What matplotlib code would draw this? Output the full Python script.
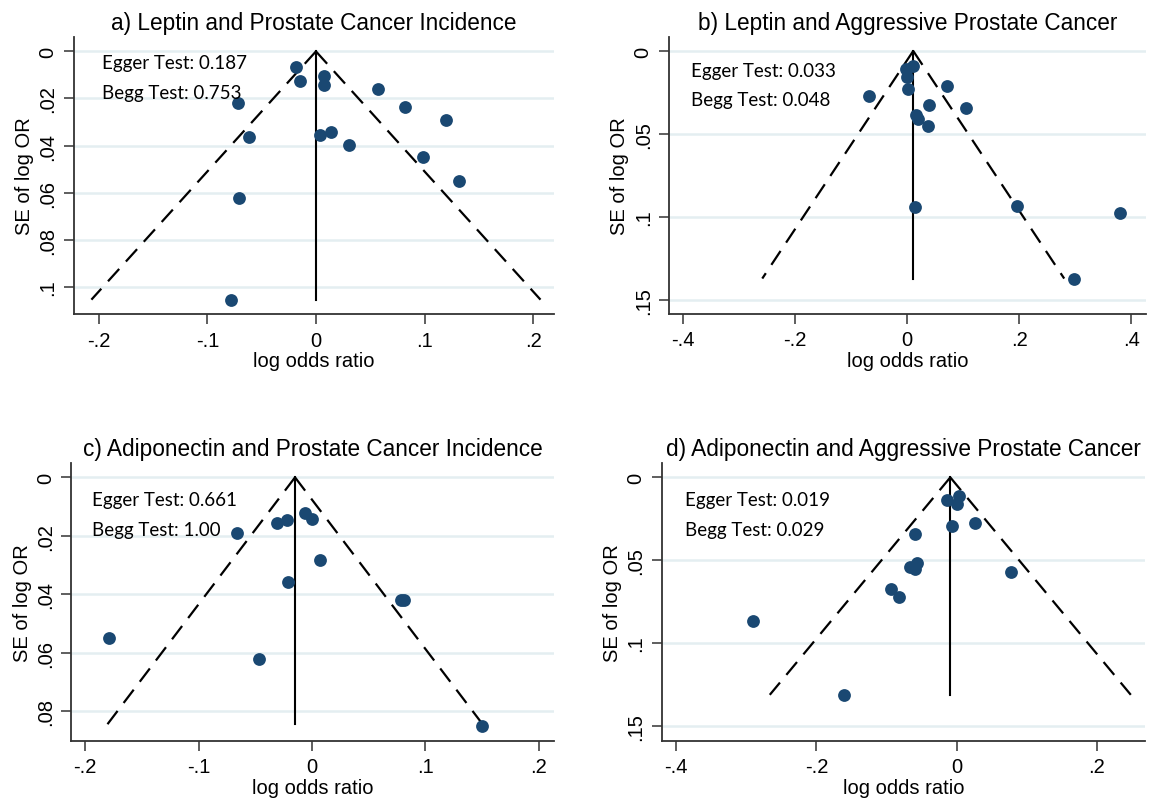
import numpy as np
import matplotlib.pyplot as plt

plt.rcParams['font.family'] = ['Liberation Sans', 'DejaVu Sans']

# a) Leptin and Prostate Cancer Incidence
a_x = [-0.018, -0.015, 0.007, 0.007, 0.057, -0.072, 0.082, 0.120, -0.062, 0.004,
       0.014, 0.030, 0.099, 0.132, -0.071, -0.078]
a_se = [0.0068, 0.0124, 0.0106, 0.0143, 0.0160, 0.0218, 0.0235, 0.0291, 0.0365, 0.0354,
        0.0342, 0.0399, 0.0447, 0.0550, 0.0621, 0.1057]
a_pool, a_semax = 0.0, 0.1055

# b) Leptin and Aggressive Prostate Cancer
b_x = [0.011, -0.002, -0.001, 0.001, 0.072, -0.068, 0.039, 0.105, 0.016, 0.020,
       0.037, 0.014, 0.196, 0.380, 0.297]
b_se = [0.0093, 0.0109, 0.0155, 0.0231, 0.0213, 0.0269, 0.0324, 0.0344, 0.0388, 0.0412,
        0.0450, 0.0943, 0.0933, 0.0977, 0.1377]
b_pool, b_semax = 0.011, 0.1373

# c) Adiponectin and Prostate Cancer Incidence
c_x = [-0.0065, 0.0, -0.022, -0.031, -0.066, 0.007, -0.021, 0.078, 0.0815, -0.179,
       -0.047, 0.150]
c_se = [0.0123, 0.0144, 0.0145, 0.0157, 0.0191, 0.0281, 0.0358, 0.0419, 0.0419, 0.0550,
        0.0620, 0.0849]
c_pool, c_semax = -0.015, 0.0844

# d) Adiponectin and Aggressive Prostate Cancer
d_x = [0.003, -0.014, 0.001, -0.007, 0.026, -0.059, -0.056, -0.067, -0.059, 0.078,
       -0.094, -0.082, -0.290, -0.160]
d_se = [0.0113, 0.0139, 0.0159, 0.0292, 0.0278, 0.0342, 0.0518, 0.0544, 0.0554, 0.0572,
        0.0671, 0.0723, 0.0868, 0.1313]
d_pool, d_semax = -0.009, 0.1313

panels = [
    dict(title='a) Leptin and Prostate Cancer Incidence', x=a_x, se=a_se, pool=a_pool, semax=a_semax,
         egger='0.187', begg='0.753', xlim=(-0.2228, 0.2192), ylim=(0.1116, -0.0061),
         xticks=[-0.2, -0.1, 0, 0.1, 0.2], xlab=['-.2', '-.1', '0', '.1', '.2'],
         yticks=[0, 0.02, 0.04, 0.06, 0.08, 0.1], ylab=['0', '.02', '.04', '.06', '.08', '.1'],
         rect=[0.0643, 0.6082, 0.417, 0.3445], txt=(0.058, 0.909, 0.80)),
    dict(title='b) Leptin and Aggressive Prostate Cancer', x=b_x, se=b_se, pool=b_pool, semax=b_semax,
         egger='0.033', begg='0.048', xlim=(-0.4238, 0.426), ylim=(0.1584, -0.0084),
         xticks=[-0.4, -0.2, 0, 0.2, 0.4], xlab=['-.4', '-.2', '0', '.2', '.4'],
         yticks=[0, 0.05, 0.1, 0.15], ylab=['0', '.05', '.1', '.15'],
         rect=[0.5815, 0.6088, 0.4142, 0.3439], txt=(0.045, 0.878, 0.773)),
    dict(title='c) Adiponectin and Prostate Cancer Incidence', x=c_x, se=c_se, pool=c_pool, semax=c_semax,
         egger='0.661', begg='1.00', xlim=(-0.2121, 0.2131), ylim=(0.090, -0.0048),
         xticks=[-0.2, -0.1, 0, 0.1, 0.2], xlab=['-.2', '-.1', '0', '.1', '.2'],
         yticks=[0, 0.02, 0.04, 0.06, 0.08], ylab=['0', '.02', '.04', '.06', '.08'],
         rect=[0.0621, 0.0775, 0.419, 0.345], txt=(0.042, 0.868, 0.76)),
    dict(title='d) Adiponectin and Aggressive Prostate Cancer', x=d_x, se=d_se, pool=d_pool, semax=d_semax,
         egger='0.019', begg='0.029', xlim=(-0.4196, 0.2686), ylim=(0.159, -0.0085),
         xticks=[-0.4, -0.2, 0, 0.2], xlab=['-.4', '-.2', '0', '.2'],
         yticks=[0, 0.05, 0.1, 0.15], ylab=['0', '.05', '.1', '.15'],
         rect=[0.5754, 0.0775, 0.4194, 0.345], txt=(0.047, 0.871, 0.763)),
]

fig = plt.figure(figsize=(11.51, 8.04), dpi=100)

for p in panels:
    ax = fig.add_axes(p['rect'])
    for y in p['yticks']:
        ax.axhline(y, color='#e4eef1', lw=1.8, zorder=0)
    # funnel: pseudo 95% limits and pooled estimate
    se = np.array([0, p['semax']])
    ax.plot(p['pool'] - 1.96 * se, se, color='black', ls=(0, (7.5, 4.5)), lw=1.6, zorder=1)
    ax.plot(p['pool'] + 1.96 * se, se, color='black', ls=(0, (7.5, 4.5)), lw=1.6, zorder=1)
    ax.plot([p['pool'], p['pool']], se, color='black', lw=1.5, zorder=1)
    ax.scatter(p['x'], p['se'], s=85, color='#1a4872', zorder=3, linewidths=0)

    ax.set_xlim(p['xlim'])
    ax.set_ylim(p['ylim'])
    ax.set_xticks(p['xticks'])
    ax.set_xticklabels(p['xlab'])
    ax.set_yticks(p['yticks'])
    ax.set_yticklabels(p['ylab'], rotation=90, va='center')
    ax.tick_params(labelsize=14.5, length=7, width=1.1, color='#333333', pad=5)
    for s in ['top', 'right']:
        ax.spines[s].set_visible(False)
    for s in ['left', 'bottom']:
        ax.spines[s].set_color('#333333')
        ax.spines[s].set_linewidth(1.3)
    ax.set_xlabel('log odds ratio', fontsize=14.5, labelpad=1)
    ax.set_ylabel('SE of log OR', fontsize=14.5, labelpad=3)
    ax.set_title(p['title'], fontsize=16.3, pad=6)

    tx, ty1, ty2 = p['txt']
    ax.text(tx, ty1, 'Egger Test: ' + p['egger'], transform=ax.transAxes,
            fontsize=13.5, family=['Lato', 'DejaVu Sans'], va='center')
    ax.text(tx, ty2, 'Begg Test: ' + p['begg'], transform=ax.transAxes,
            fontsize=13.5, family=['Lato', 'DejaVu Sans'], va='center')

plt.savefig('out.png', dpi=100)
